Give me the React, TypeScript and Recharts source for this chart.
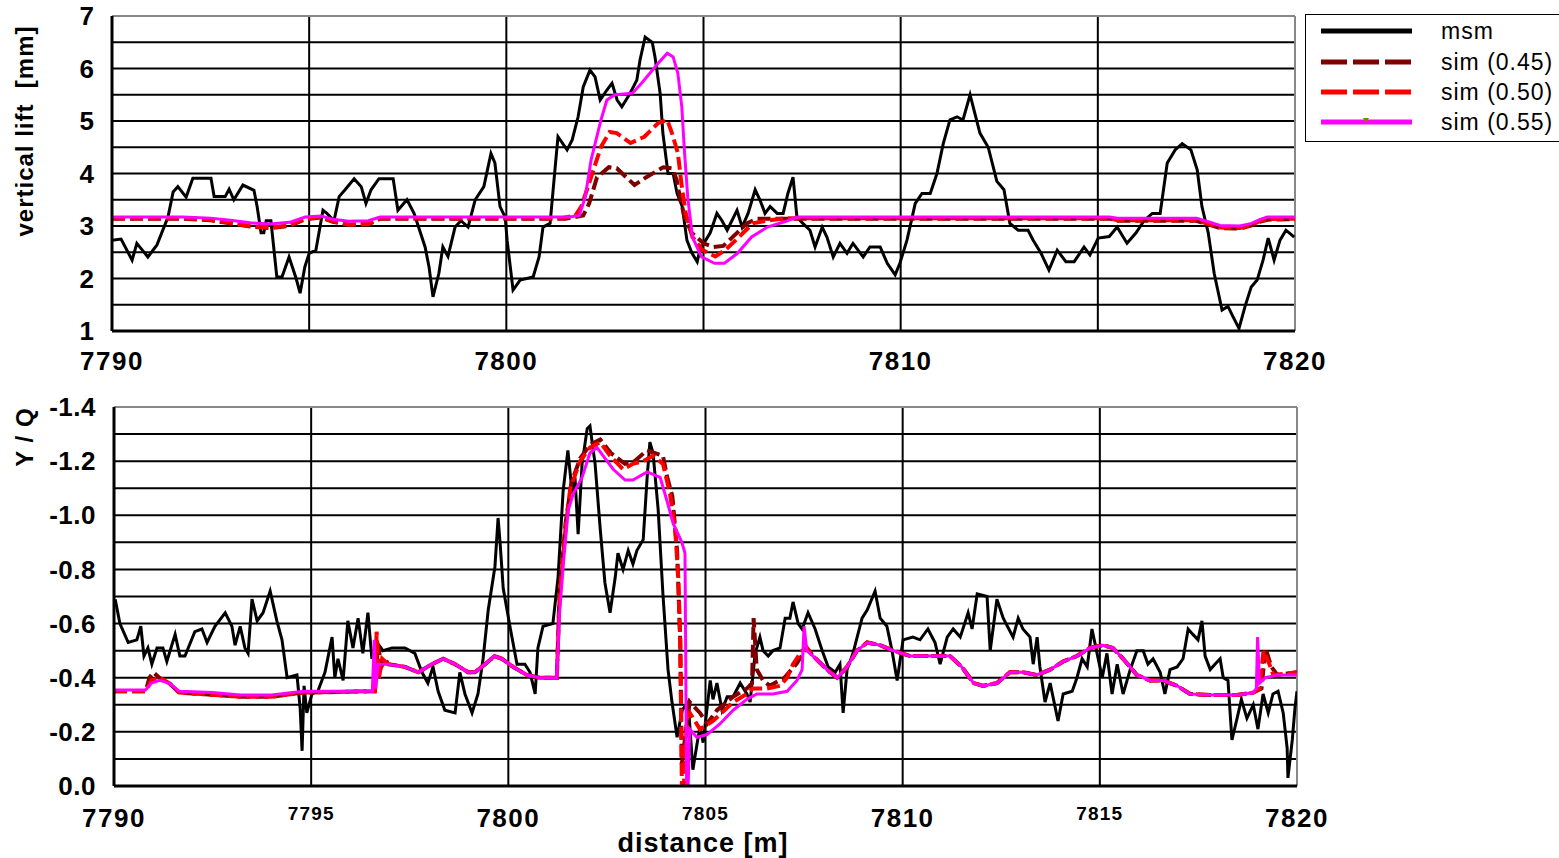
import { LineChart, Line, XAxis, YAxis, CartesianGrid, ReferenceLine } from "recharts"

// distance [m] ticks shared by both panels
const distanceTicks = [7790, 7795, 7800, 7805, 7810, 7815, 7820]
const liftTicks = [1, 1.5, 2, 2.5, 3, 3.5, 4, 4.5, 5, 5.5, 6, 6.5, 7]
const yqTicks = [-1.4, -1.3, -1.2, -1.1, -1.0, -0.9, -0.8, -0.7, -0.6, -0.5, -0.4, -0.3, -0.2, -0.1, 0]

const seriesNames = ["msm", "sim (0.45)", "sim (0.50)", "sim (0.55)"]

// top panel: vertical lift [mm]
const liftMsm = [
  [7790.0, 2.73], [7790.23, 2.75], [7790.51, 2.35], [7790.63, 2.67], [7790.91, 2.41], [7791.14, 2.64],
  [7791.42, 3.17], [7791.55, 3.65], [7791.67, 3.75], [7791.88, 3.55], [7792.05, 3.91], [7792.51, 3.91],
  [7792.59, 3.56], [7792.87, 3.56], [7792.97, 3.7], [7793.09, 3.5], [7793.32, 3.78], [7793.6, 3.68],
  [7793.68, 3.37], [7793.78, 2.87], [7793.85, 2.87], [7793.91, 3.1], [7794.03, 3.1], [7794.18, 2.03],
  [7794.31, 2.03], [7794.49, 2.41], [7794.67, 2.0], [7794.77, 1.72], [7794.89, 2.22], [7795.0, 2.48],
  [7795.17, 2.54], [7795.35, 3.3], [7795.45, 3.24], [7795.63, 3.1], [7795.76, 3.56], [7795.91, 3.69],
  [7796.14, 3.9], [7796.32, 3.75], [7796.44, 3.43], [7796.57, 3.69], [7796.77, 3.9], [7797.13, 3.9],
  [7797.25, 3.3], [7797.48, 3.5], [7797.66, 3.24], [7797.94, 2.6], [7798.04, 2.22], [7798.14, 1.65],
  [7798.29, 2.1], [7798.39, 2.6], [7798.52, 2.42], [7798.7, 2.98], [7798.85, 3.1], [7799.03, 2.98],
  [7799.21, 3.5], [7799.43, 3.75], [7799.61, 4.38], [7799.71, 4.2], [7799.84, 3.37], [7799.97, 3.17],
  [7800.02, 2.73], [7800.17, 1.78], [7800.35, 1.97], [7800.68, 2.03], [7800.83, 2.41], [7800.93, 2.98],
  [7801.11, 3.05], [7801.24, 4.13], [7801.31, 4.7], [7801.54, 4.45], [7801.67, 4.64], [7801.82, 5.08],
  [7801.95, 5.65], [7802.12, 5.97], [7802.25, 5.84], [7802.38, 5.4], [7802.55, 5.59], [7802.68, 5.72],
  [7802.81, 5.4], [7802.93, 5.27], [7803.14, 5.53], [7803.31, 5.78], [7803.39, 6.16], [7803.52, 6.6],
  [7803.7, 6.5], [7803.77, 6.22], [7803.9, 5.53], [7803.97, 4.77], [7804.1, 4.0], [7804.23, 4.0],
  [7804.33, 3.62], [7804.46, 3.37], [7804.58, 2.73], [7804.71, 2.48], [7804.84, 2.32], [7804.91, 2.55],
  [7805.17, 2.87], [7805.34, 3.24], [7805.47, 3.1], [7805.6, 2.92], [7805.85, 3.3], [7805.98, 2.98],
  [7806.13, 3.24], [7806.31, 3.69], [7806.43, 3.5], [7806.56, 3.24], [7806.69, 3.37], [7806.87, 3.24],
  [7807.02, 3.24], [7807.14, 3.62], [7807.27, 3.93], [7807.37, 3.17], [7807.52, 3.05], [7807.7, 2.92],
  [7807.83, 2.6], [7808.01, 2.98], [7808.13, 2.79], [7808.29, 2.41], [7808.46, 2.67], [7808.64, 2.48],
  [7808.79, 2.67], [7809.05, 2.41], [7809.22, 2.6], [7809.48, 2.6], [7809.66, 2.29], [7809.86, 2.07],
  [7809.98, 2.29], [7810.16, 2.73], [7810.37, 3.43], [7810.54, 3.62], [7810.75, 3.62], [7810.92, 4.0],
  [7811.08, 4.57], [7811.25, 5.02], [7811.43, 5.08], [7811.58, 5.02], [7811.76, 5.5], [7812.01, 4.77],
  [7812.22, 4.5], [7812.44, 3.85], [7812.62, 3.69], [7812.77, 3.05], [7812.98, 2.92], [7813.23, 2.92],
  [7813.36, 2.73], [7813.56, 2.48], [7813.76, 2.16], [7813.97, 2.54], [7814.19, 2.32], [7814.4, 2.32],
  [7814.65, 2.6], [7814.8, 2.45], [7815.01, 2.77], [7815.29, 2.8], [7815.49, 2.98], [7815.74, 2.67],
  [7815.97, 2.87], [7816.17, 3.1], [7816.38, 3.24], [7816.58, 3.24], [7816.76, 4.2], [7816.96, 4.45],
  [7817.14, 4.57], [7817.36, 4.45], [7817.52, 4.07], [7817.64, 3.37], [7817.8, 2.87], [7817.95, 2.1],
  [7818.15, 1.4], [7818.3, 1.47], [7818.43, 1.27], [7818.58, 1.05], [7818.73, 1.46], [7818.89, 1.84],
  [7819.04, 1.97], [7819.19, 2.35], [7819.32, 2.77], [7819.47, 2.35], [7819.62, 2.73], [7819.77, 2.92],
  [7819.98, 2.79],
]

const liftSim45 = [
  [7790.0, 3.14], [7791.8, 3.14], [7792.5, 3.11], [7793.0, 3.05], [7793.5, 2.99], [7794.0, 2.96],
  [7794.5, 3.0], [7794.9, 3.13], [7795.3, 3.16], [7795.6, 3.08], [7796.0, 3.02], [7796.5, 3.03],
  [7796.8, 3.14], [7801.5, 3.14], [7801.95, 3.2], [7802.1, 3.43], [7802.3, 3.93], [7802.6, 4.12],
  [7802.8, 4.1], [7803.25, 3.78], [7803.55, 3.93], [7803.98, 4.12], [7804.2, 4.1], [7804.32, 3.88],
  [7804.4, 3.55], [7804.52, 3.17], [7804.7, 2.87], [7805.0, 2.67], [7805.25, 2.6], [7805.5, 2.62],
  [7805.85, 2.87], [7806.1, 3.05], [7806.35, 3.14], [7815.3, 3.14], [7815.5, 3.1], [7817.5, 3.1],
  [7817.8, 3.03], [7818.1, 2.96], [7818.6, 2.95], [7818.9, 3.01], [7819.1, 3.08], [7819.3, 3.12],
  [7820.0, 3.13],
]

const liftSim50 = [
  [7790.0, 3.15], [7791.8, 3.15], [7792.5, 3.12], [7793.0, 3.06], [7793.5, 3.0], [7794.0, 2.97],
  [7794.5, 3.01], [7794.9, 3.14], [7795.3, 3.17], [7795.6, 3.09], [7796.0, 3.03], [7796.5, 3.04],
  [7796.8, 3.15], [7801.4, 3.15], [7801.75, 3.2], [7801.9, 3.37], [7802.15, 3.93], [7802.4, 4.51],
  [7802.62, 4.79], [7802.8, 4.77], [7803.15, 4.58], [7803.5, 4.7], [7803.85, 4.96], [7804.08, 5.02],
  [7804.2, 4.77], [7804.35, 4.39], [7804.45, 3.75], [7804.55, 3.24], [7804.72, 2.79], [7804.98, 2.54],
  [7805.3, 2.42], [7805.55, 2.54], [7805.9, 2.79], [7806.25, 3.05], [7806.6, 3.1], [7807.1, 3.15],
  [7815.3, 3.15], [7815.5, 3.11], [7817.5, 3.11], [7817.8, 3.04], [7818.1, 2.97], [7818.6, 2.96],
  [7818.9, 3.02], [7819.1, 3.09], [7819.3, 3.13], [7820.0, 3.14],
]

const liftSim55 = [
  [7790.0, 3.17], [7791.8, 3.17], [7792.5, 3.15], [7793.0, 3.11], [7793.5, 3.06], [7794.0, 3.04],
  [7794.5, 3.07], [7794.9, 3.17], [7795.3, 3.19], [7795.6, 3.13], [7796.0, 3.09], [7796.5, 3.1],
  [7796.8, 3.17], [7801.6, 3.17], [7801.85, 3.2], [7802.0, 3.55], [7802.15, 4.26], [7802.4, 5.02],
  [7802.55, 5.4], [7802.75, 5.5], [7803.2, 5.53], [7803.45, 5.74], [7803.85, 6.1], [7804.08, 6.29],
  [7804.23, 6.22], [7804.35, 5.91], [7804.45, 5.27], [7804.52, 4.39], [7804.6, 3.55], [7804.72, 2.79],
  [7804.95, 2.41], [7805.28, 2.29], [7805.53, 2.29], [7805.86, 2.48], [7806.22, 2.79], [7806.62, 2.98],
  [7807.05, 3.08], [7807.38, 3.17], [7815.3, 3.17], [7815.5, 3.15], [7817.5, 3.15], [7817.8, 3.08],
  [7818.1, 3.01], [7818.6, 3.0], [7818.9, 3.05], [7819.1, 3.12], [7819.3, 3.17], [7820.0, 3.17],
]

// bottom panel: Y / Q
const yqMsm = [
  [7790.03, -0.69], [7790.15, -0.6], [7790.36, -0.53], [7790.58, -0.54], [7790.68, -0.59], [7790.76, -0.48],
  [7790.86, -0.51], [7790.96, -0.45], [7791.09, -0.51], [7791.24, -0.51], [7791.34, -0.46], [7791.55, -0.56],
  [7791.67, -0.48], [7791.8, -0.48], [7792.05, -0.57], [7792.23, -0.58], [7792.36, -0.53], [7792.56, -0.59],
  [7792.82, -0.64], [7792.99, -0.59], [7793.07, -0.52], [7793.2, -0.59], [7793.32, -0.51], [7793.4, -0.49],
  [7793.5, -0.69], [7793.63, -0.61], [7793.78, -0.64], [7793.96, -0.72], [7794.13, -0.61], [7794.26, -0.54],
  [7794.39, -0.4], [7794.64, -0.41], [7794.72, -0.29], [7794.77, -0.13], [7794.82, -0.37], [7794.89, -0.27],
  [7795.02, -0.34], [7795.17, -0.35], [7795.35, -0.42], [7795.53, -0.55], [7795.6, -0.4], [7795.68, -0.47],
  [7795.81, -0.39], [7795.93, -0.61], [7796.06, -0.51], [7796.19, -0.62], [7796.31, -0.49], [7796.44, -0.64],
  [7796.54, -0.47], [7796.67, -0.53], [7796.82, -0.5], [7797.05, -0.51], [7797.38, -0.51], [7797.63, -0.49],
  [7797.81, -0.42], [7797.96, -0.38], [7798.09, -0.44], [7798.22, -0.35], [7798.39, -0.28], [7798.65, -0.27],
  [7798.77, -0.42], [7798.9, -0.34], [7799.08, -0.27], [7799.23, -0.34], [7799.36, -0.47], [7799.49, -0.65],
  [7799.66, -0.81], [7799.74, -0.99], [7799.79, -0.9], [7799.87, -0.73], [7800.04, -0.59], [7800.22, -0.45],
  [7800.42, -0.45], [7800.55, -0.42], [7800.68, -0.34], [7800.75, -0.51], [7800.88, -0.59], [7801.13, -0.6],
  [7801.26, -0.77], [7801.39, -1.09], [7801.51, -1.24], [7801.62, -1.08], [7801.69, -1.14], [7801.77, -0.93],
  [7801.87, -1.19], [7802.0, -1.32], [7802.07, -1.33], [7802.2, -1.19], [7802.33, -0.95], [7802.45, -0.75],
  [7802.58, -0.64], [7802.71, -0.77], [7802.78, -0.86], [7802.91, -0.8], [7803.04, -0.87], [7803.16, -0.82],
  [7803.26, -0.87], [7803.42, -0.91], [7803.52, -1.14], [7803.59, -1.27], [7803.67, -1.23], [7803.8, -1.02],
  [7803.92, -0.71], [7804.05, -0.43], [7804.15, -0.31], [7804.28, -0.18], [7804.41, -0.28], [7804.56, -0.31],
  [7804.68, -0.06], [7804.79, -0.16], [7804.86, -0.22], [7804.94, -0.16], [7805.12, -0.39], [7805.19, -0.32],
  [7805.29, -0.38], [7805.42, -0.28], [7805.55, -0.33], [7805.7, -0.33], [7805.88, -0.38], [7806.05, -0.34],
  [7806.13, -0.31], [7806.26, -0.49], [7806.38, -0.55], [7806.46, -0.5], [7806.59, -0.48], [7806.71, -0.5],
  [7806.89, -0.51], [7807.02, -0.62], [7807.14, -0.62], [7807.22, -0.68], [7807.35, -0.6], [7807.45, -0.58],
  [7807.6, -0.64], [7807.78, -0.58], [7807.96, -0.5], [7808.11, -0.44], [7808.29, -0.42], [7808.41, -0.45],
  [7808.49, -0.27], [7808.59, -0.43], [7808.74, -0.49], [7808.97, -0.62], [7809.1, -0.65], [7809.3, -0.72],
  [7809.43, -0.62], [7809.6, -0.59], [7809.73, -0.5], [7809.86, -0.39], [7810.01, -0.54], [7810.26, -0.55],
  [7810.44, -0.54], [7810.64, -0.58], [7810.82, -0.53], [7810.95, -0.45], [7811.13, -0.55], [7811.28, -0.58],
  [7811.46, -0.55], [7811.66, -0.64], [7811.76, -0.58], [7811.89, -0.71], [7812.14, -0.7], [7812.22, -0.5],
  [7812.39, -0.69], [7812.55, -0.62], [7812.8, -0.55], [7812.93, -0.62], [7813.05, -0.58], [7813.23, -0.55],
  [7813.31, -0.45], [7813.41, -0.55], [7813.48, -0.44], [7813.61, -0.31], [7813.74, -0.38], [7813.94, -0.24],
  [7814.07, -0.34], [7814.3, -0.35], [7814.42, -0.4], [7814.55, -0.47], [7814.68, -0.44], [7814.8, -0.58],
  [7814.93, -0.49], [7815.06, -0.4], [7815.18, -0.49], [7815.31, -0.34], [7815.44, -0.45], [7815.59, -0.34],
  [7815.77, -0.43], [7815.94, -0.5], [7816.1, -0.5], [7816.22, -0.45], [7816.35, -0.47], [7816.53, -0.42],
  [7816.65, -0.34], [7816.78, -0.43], [7816.96, -0.44], [7817.11, -0.47], [7817.24, -0.58], [7817.36, -0.56],
  [7817.49, -0.54], [7817.59, -0.61], [7817.67, -0.48], [7817.8, -0.43], [7817.92, -0.45], [7818.05, -0.47],
  [7818.13, -0.4], [7818.25, -0.39], [7818.35, -0.17], [7818.48, -0.25], [7818.59, -0.32], [7818.73, -0.25],
  [7818.89, -0.3], [7819.01, -0.21], [7819.14, -0.34], [7819.27, -0.27], [7819.39, -0.34], [7819.52, -0.35],
  [7819.65, -0.27], [7819.75, -0.14], [7819.77, -0.03], [7819.88, -0.17], [7819.95, -0.29], [7820.0, -0.35],
]

// parts the three simulations share in the bottom panel
const yqSimMid = [
  [7796.95, -0.45], [7797.38, -0.44], [7797.72, -0.42], [7798.06, -0.45], [7798.35, -0.47], [7798.65, -0.45],
  [7798.98, -0.42], [7799.15, -0.42], [7799.41, -0.45], [7799.65, -0.48], [7799.84, -0.47], [7800.12, -0.44],
  [7800.47, -0.41], [7800.8, -0.4], [7801.23, -0.4],
]
const yqSimTail = [
  [7807.73, -0.48], [7808.08, -0.43], [7808.34, -0.4], [7808.59, -0.44], [7808.84, -0.5], [7809.1, -0.53],
  [7809.43, -0.52], [7809.76, -0.5], [7810.19, -0.48], [7810.7, -0.48], [7811.2, -0.48], [7811.5, -0.44],
  [7811.8, -0.38], [7812.04, -0.37], [7812.39, -0.38], [7812.72, -0.42], [7813.05, -0.42], [7813.4, -0.41],
  [7813.74, -0.43], [7814.07, -0.46], [7814.42, -0.48], [7814.75, -0.51], [7815.08, -0.52], [7815.33, -0.51],
  [7815.59, -0.47], [7815.94, -0.41], [7816.27, -0.39], [7816.6, -0.39], [7816.96, -0.37], [7817.29, -0.34],
  [7817.8, -0.336], [7818.48, -0.336], [7818.89, -0.345],
]

const yqSim45 = [
  [7790.0, -0.35], [7790.8, -0.35], [7790.9, -0.4], [7791.0, -0.42], [7791.15, -0.4], [7791.4, -0.38],
  [7791.65, -0.345], [7793.2, -0.33], [7794.0, -0.33], [7794.8, -0.345], [7796.6, -0.35], [7796.7, -0.52],
  [7796.78, -0.44], [7796.88, -0.47],
  ...yqSimMid,
  [7801.3, -0.72], [7801.45, -0.97], [7801.6, -1.12], [7801.82, -1.21], [7802.07, -1.26], [7802.33, -1.28],
  [7802.6, -1.23], [7802.96, -1.19], [7803.2, -1.2], [7803.52, -1.24], [7803.92, -1.22], [7804.03, -1.14],
  [7804.16, -1.07], [7804.28, -0.87], [7804.36, -0.53], [7804.4, -0.08], [7804.5, -0.2], [7804.6, -0.31],
  [7804.86, -0.27], [7805.04, -0.23], [7805.29, -0.28], [7805.7, -0.33], [7806.05, -0.36], [7806.18, -0.38],
  [7806.22, -0.62], [7806.3, -0.43], [7806.46, -0.39], [7806.63, -0.37], [7807.0, -0.4], [7807.3, -0.45],
  [7807.57, -0.51],
  ...yqSimTail,
  [7819.1, -0.36], [7819.2, -0.51], [7819.35, -0.44], [7819.5, -0.41], [7820.0, -0.42],
]

const yqSim50 = [
  [7790.0, -0.35], [7790.8, -0.35], [7790.95, -0.39], [7791.15, -0.4], [7791.4, -0.38], [7791.65, -0.345],
  [7793.2, -0.33], [7794.0, -0.33], [7794.8, -0.345], [7796.55, -0.35], [7796.62, -0.35], [7796.66, -0.57],
  [7796.72, -0.4], [7796.8, -0.47],
  ...yqSimMid,
  [7801.3, -0.7], [7801.45, -0.95], [7801.57, -1.1], [7801.82, -1.2], [7802.07, -1.25], [7802.33, -1.27],
  [7802.58, -1.22], [7802.91, -1.17], [7803.16, -1.19], [7803.42, -1.2], [7803.67, -1.22], [7803.92, -1.19],
  [7804.1, -1.08], [7804.23, -0.95], [7804.31, -0.77], [7804.36, -0.53], [7804.4, -0.01], [7804.45, 0],
  [7804.53, -0.25], [7804.6, -0.27], [7804.86, -0.21], [7805.19, -0.24], [7805.7, -0.31], [7806.05, -0.34],
  [7806.2, -0.36], [7806.56, -0.36], [7806.89, -0.37], [7807.07, -0.4], [7807.22, -0.45], [7807.45, -0.5],
  [7807.57, -0.51],
  ...yqSimTail,
  [7819.05, -0.36], [7819.15, -0.5], [7819.3, -0.45], [7819.4, -0.41], [7820.0, -0.42],
]

const yqSim55 = [
  [7790.0, -0.355], [7790.8, -0.355], [7790.95, -0.38], [7791.15, -0.39], [7791.4, -0.38], [7791.65, -0.35],
  [7792.5, -0.345], [7793.2, -0.336], [7794.0, -0.336], [7794.8, -0.35], [7796.55, -0.35], [7796.6, -0.54],
  [7796.64, -0.36], [7796.7, -0.45],
  ...yqSimMid,
  [7801.29, -0.62], [7801.4, -0.83], [7801.52, -1.02], [7801.65, -1.08], [7801.87, -1.14], [7802.07, -1.23],
  [7802.25, -1.25], [7802.4, -1.22], [7802.66, -1.17], [7802.96, -1.13], [7803.16, -1.13], [7803.52, -1.16],
  [7803.85, -1.14], [7804.03, -1.05], [7804.18, -0.97], [7804.4, -0.9], [7804.48, -0.86], [7804.52, -0.02],
  [7804.56, 0], [7804.6, -0.21], [7804.78, -0.18], [7805.04, -0.19], [7805.37, -0.23], [7805.7, -0.28],
  [7806.05, -0.32], [7806.3, -0.34], [7806.71, -0.34], [7807.07, -0.35], [7807.32, -0.39], [7807.45, -0.43],
  [7807.5, -0.59], [7807.57, -0.5],
  ...yqSimTail,
  [7818.97, -0.36], [7819.0, -0.55], [7819.05, -0.38], [7819.2, -0.4], [7819.5, -0.41], [7820.0, -0.41],
]

const toPoints = (pairs: number[][]) => pairs.map(([x, v]) => ({ x, v }))

const FONT = "'Liberation Sans', Arial, sans-serif"
const COLORS = ["#000000", "#800000", "#ff0000", "#ff00ff"]

function TopDistanceTick(props: any) {
  const { x, y, payload } = props
  if (payload.value % 10 !== 0) return <g />
  return (
    <text x={x} y={y + 30} dy="0.35em" textAnchor="middle" fontFamily={FONT} fontWeight="bold" fontSize={26} letterSpacing={1.5} fill="#000">
      {payload.value}
    </text>
  )
}

function BottomDistanceTick(props: any) {
  const { x, y, payload } = props
  const major = payload.value % 10 === 0
  return (
    <text x={x} y={y + (major ? 32 : 27)} dy="0.35em" textAnchor="middle" fontFamily={FONT} fontWeight="bold"
      fontSize={major ? 26 : 19} letterSpacing={major ? 1.5 : 1.2} fill="#000">
      {payload.value}
    </text>
  )
}

function LiftTick(props: any) {
  const { x, y, payload } = props
  if (!Number.isInteger(payload.value)) return <g />
  return (
    <text x={x} y={y} dy="0.35em" textAnchor="end" fontFamily={FONT} fontWeight="bold" fontSize={26} fill="#000">
      {payload.value}
    </text>
  )
}

function YqTick(props: any) {
  const { x, y, payload } = props
  if (Math.round(payload.value * 10) % 2 !== 0) return <g />
  return (
    <text x={x} y={y} dy="0.35em" textAnchor="end" fontFamily={FONT} fontWeight="bold" fontSize={26} letterSpacing={0.5} fill="#000">
      {payload.value.toFixed(1)}
    </text>
  )
}

function RotatedTitle({ text, cx, cy }: { text: string; cx: number; cy: number }) {
  return (
    <div style={{
      position: "absolute", left: cx, top: cy, transform: "translate(-50%, -50%) rotate(-90deg)",
      whiteSpace: "pre", fontFamily: FONT, fontWeight: "bold", fontSize: 24, letterSpacing: 1, color: "#000",
    }}>
      {text}
    </div>
  )
}

function Legend() {
  const rows = [16, 47, 77, 107]
  return (
    <div style={{ position: "absolute", left: 1305, top: 14, width: 280, height: 126, border: "1.5px solid #000", background: "#fff" }}>
      <svg width={280} height={126}>
        {seriesNames.map((name, i) => (
          <g key={name}>
            <line x1={15} x2={106} y1={rows[i]} y2={rows[i]} stroke={COLORS[i]} strokeWidth={5}
              strokeDasharray={i === 1 || i === 2 ? "26 6" : undefined} />
            {i === 3 && <path d={`M 57 ${rows[i] - 4} L 63 ${rows[i] - 4} L 60 ${rows[i] + 1} Z`} fill="#808000" />}
            <text x={135} y={rows[i]} dy="0.35em" fontFamily={FONT} fontSize={23} letterSpacing={1} fill="#000">
              {name}
            </text>
          </g>
        ))}
      </svg>
    </div>
  )
}

function renderLines(sets: number[][][]) {
  return sets.map((set, i) => (
    <Line
      key={seriesNames[i]}
      data={toPoints(set)}
      dataKey="v"
      name={seriesNames[i]}
      type="linear"
      stroke={COLORS[i]}
      strokeWidth={i === 0 ? 3 : i === 3 ? 3 : 4}
      strokeDasharray={i === 1 || i === 2 ? "13 5" : undefined}
      dot={false}
      activeDot={false}
      isAnimationActive={false}
    />
  ))
}

export default function App() {
  return (
    <div style={{ position: "absolute", left: 0, top: 0, width: 1559, height: 858, overflow: "hidden", background: "#fff" }}>
      <div style={{ position: "absolute", left: 0, top: 0 }}>
        <LineChart width={1340} height={380} margin={{ top: 16, right: 45, bottom: 0, left: 0 }}>
          <CartesianGrid stroke="#000" strokeWidth={2} />
          <XAxis dataKey="x" type="number" domain={[7790, 7820]} ticks={distanceTicks} allowDataOverflow
            height={49} tickLine={false} tickSize={0} tickMargin={0} axisLine={{ stroke: "#000", strokeWidth: 3 }}
            tick={<TopDistanceTick />} interval={0} />
          <YAxis type="number" domain={[1, 7]} ticks={liftTicks} allowDataOverflow width={112}
            tickLine={false} tickSize={0} tickMargin={18} axisLine={{ stroke: "#000", strokeWidth: 3 }}
            tick={<LiftTick />} interval={0} />
          <ReferenceLine y={7} stroke="#888" strokeWidth={2} />
          <ReferenceLine x={7820} stroke="#888" strokeWidth={2} />
          {renderLines([liftMsm, liftSim45, liftSim50, liftSim55])}
        </LineChart>
      </div>

      <div style={{ position: "absolute", left: 0, top: 390 }}>
        <LineChart width={1342} height={468} margin={{ top: 17, right: 45, bottom: 0, left: 0 }}>
          <CartesianGrid stroke="#000" strokeWidth={2} />
          <XAxis dataKey="x" type="number" domain={[7790, 7820]} ticks={distanceTicks} allowDataOverflow
            height={72} tickLine={false} tickSize={0} tickMargin={0} axisLine={{ stroke: "#000", strokeWidth: 3 }}
            tick={<BottomDistanceTick />} interval={0} />
          <YAxis type="number" domain={[-1.4, 0]} reversed ticks={yqTicks} allowDataOverflow width={114}
            tickLine={false} tickSize={0} tickMargin={18} axisLine={{ stroke: "#000", strokeWidth: 3 }}
            tick={<YqTick />} interval={0} />
          <ReferenceLine y={-1.4} stroke="#888" strokeWidth={2} />
          <ReferenceLine x={7820} stroke="#888" strokeWidth={2} />
          {renderLines([yqMsm, yqSim45, yqSim50, yqSim55])}
        </LineChart>
      </div>

      <RotatedTitle text={"vertical lift  [mm]"} cx={25} cy={131} />
      <RotatedTitle text={"Y / Q"} cx={25} cy={437} />
      <div style={{ position: "absolute", left: 703, top: 843, transform: "translate(-50%, -50%)", whiteSpace: "nowrap",
        fontFamily: FONT, fontWeight: "bold", fontSize: 27, letterSpacing: 1, color: "#000" }}>
        distance [m]
      </div>
      <Legend />
    </div>
  )
}
